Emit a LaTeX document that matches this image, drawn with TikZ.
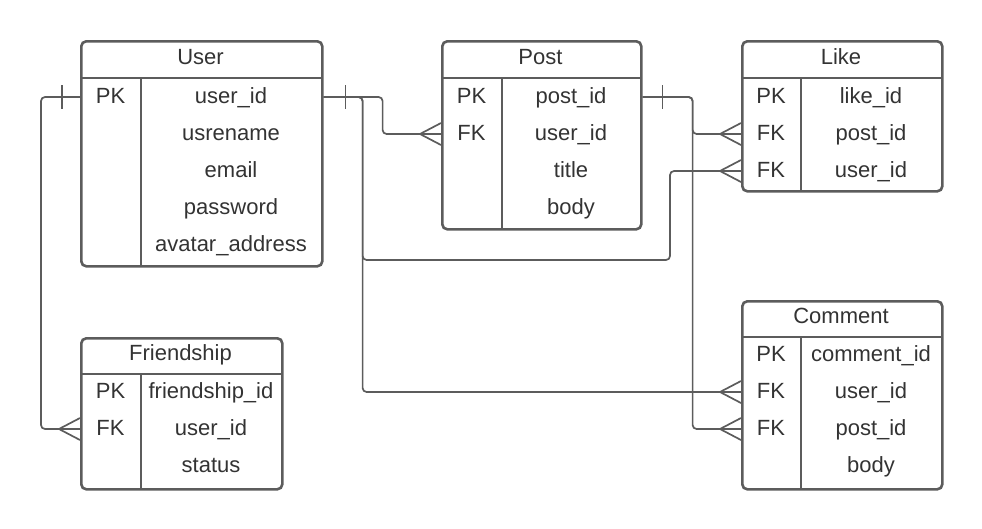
\documentclass[tikz,border=0pt]{standalone}
\usepackage{fontspec}
\setmainfont{Liberation Sans}
\usetikzlibrary{positioning}

\definecolor{erline}{HTML}{5C5C5C}
\definecolor{ertext}{HTML}{333333}

% crow's foot (many) entering a table from the left, one-bar mark
\newcommand{\manyend}[1]{\draw[connector,sharp corners] (#1) ++(0,-11) -- ++(-21,11) -- ++(21,11);}
\newcommand{\onebar}[2]{\draw[connector,sharp corners] (#1) ++(#2,-12) -- ++(0,24);}

\begin{document}
\begin{tikzpicture}[x=1pt,y=-1pt,node distance=37pt,on grid,
	font=\fontsize{22}{26}\selectfont,text=ertext,
	every node/.style={inner sep=0pt,text height=15pt,text depth=3pt},
	table/.style={draw=erline,line width=2.6pt,rounded corners=5pt,anchor=north west,text height=0pt,text depth=0pt},
	rule/.style={draw=erline,line width=2.6pt},
	connector/.style={draw=erline,line width=1.7pt,rounded corners=4pt}]
\useasboundingbox (0,0) rectangle (982,528);

% User
\node[table,minimum width=241pt,minimum height=225pt] (user) at (80,40) {};
\node (user-title) at (200.5,58) {User};
\draw[rule] (80,78) -- (321,78);
\draw[rule] (141,78) -- (141,265);
\node (user-k1) at (110.5,97) {PK};
\node (user-f1) at (231,97) {user\_id};
\node (user-f2) [below=of user-f1] {usrename};
\node (user-f3) [below=of user-f2] {email};
\node (user-f4) [below=of user-f3] {password};
\node (user-f5) [below=of user-f4] {avatar\_address};

% Post
\node[table,minimum width=199pt,minimum height=188pt] (post) at (441,40) {};
\node (post-title) at (540.5,58) {Post};
\draw[rule] (441,78) -- (640,78);
\draw[rule] (502,78) -- (502,228);
\node (post-k1) at (471.5,97) {PK};
\node (post-k2) [below=of post-k1] {FK};
\node (post-f1) at (571,97) {post\_id};
\node (post-f2) [below=of post-f1] {user\_id};
\node (post-f3) [below=of post-f2] {title};
\node (post-f4) [below=of post-f3] {body};

% Like
\node[table,minimum width=200pt,minimum height=150pt] (like) at (741,40) {};
\node (like-title) at (841,58) {Like};
\draw[rule] (741,78) -- (941,78);
\draw[rule] (801,78) -- (801,190);
\node (like-k1) at (771,97) {PK};
\node (like-k2) [below=of like-k1] {FK};
\node (like-k3) [below=of like-k2] {FK};
\node (like-f1) at (871,97) {like\_id};
\node (like-f2) [below=of like-f1] {post\_id};
\node (like-f3) [below=of like-f2] {user\_id};

% Friendship
\node[table,minimum width=201pt,minimum height=151pt] (friend) at (80,337) {};
\node (friend-title) at (180.5,354) {Friendship};
\draw[rule] (80,374) -- (281,374);
\draw[rule] (141,374) -- (141,488);
\node (friend-k1) at (110.5,392) {PK};
\node (friend-k2) [below=of friend-k1] {FK};
\node (friend-f1) at (211,392) {friendship\_id};
\node (friend-f2) [below=of friend-f1] {user\_id};
\node (friend-f3) [below=of friend-f2] {status};

% Comment
\node[table,minimum width=200pt,minimum height=188pt] (comment) at (741,300) {};
\node (comment-title) at (841,317) {Comment};
\draw[rule] (741,337) -- (941,337);
\draw[rule] (801,337) -- (801,488);
\node (comment-k1) at (771,355) {PK};
\node (comment-k2) [below=of comment-k1] {FK};
\node (comment-k3) [below=of comment-k2] {FK};
\node (comment-f1) at (871,355) {comment\_id};
\node (comment-f2) [below=of comment-f1] {user\_id};
\node (comment-f3) [below=of comment-f2] {post\_id};
\node (comment-f4) [below=of comment-f3] {body};

% relations
\draw[connector] (user.west |- user-f1) -- ++(-39,0) |- (friend.west |- friend-f2);
\draw[connector] (user.east |- user-f1) -- ++(59,0) |- (post.west |- post-f2);
\draw[connector] (user.east |- user-f1) -- ++(39,0) |- (670,260) |- (like.west |- like-f3);
\draw[connector] (user.east |- user-f1) -- ++(39,0) |- (comment.west |- comment-f2);
\draw[connector] (post.east |- post-f1) -- ++(50,0) |- (like.west |- like-f2);
\draw[connector] (post.east |- post-f1) -- ++(50,0) |- (comment.west |- comment-f3);

\onebar{user.west |- user-f1}{-18}
\onebar{user.east |- user-f1}{22}
\onebar{post.east |- post-f1}{20}
\manyend{friend.west |- friend-f2}
\manyend{post.west |- post-f2}
\manyend{like.west |- like-f2}
\manyend{like.west |- like-f3}
\manyend{comment.west |- comment-f2}
\manyend{comment.west |- comment-f3}
\end{tikzpicture}
\end{document}
